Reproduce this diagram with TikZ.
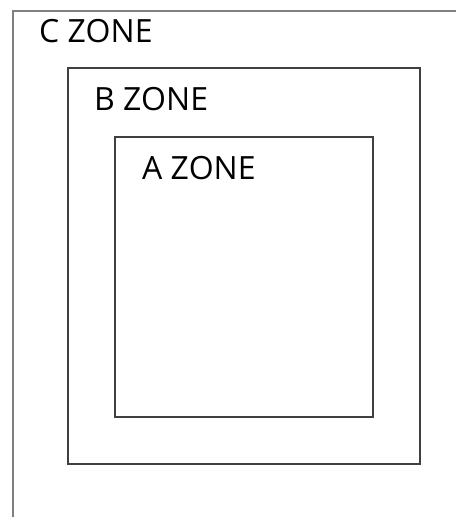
\documentclass[tikz,border=0pt]{standalone}
\usepackage{fontspec}
\setmainfont{Open Sans}
\begin{document}
\begin{tikzpicture}[x=1pt,y=-1pt,
  zonebox/.style={draw=black!75, line width=2.2pt},
  outerline/.style={draw=black!50, line width=2pt},
  zonelabel/.style={anchor=base west, inner sep=0pt, font=\fontsize{32}{38}\selectfont}]
\useasboundingbox[fill=white] (0,0) rectangle (456,517);
\coordinate (cbl) at (12.5,517);
\coordinate (ctl) at (12.5,10.5);
\coordinate (ctr) at (456,10.5);
\draw[outerline] (cbl) -- (ctl) -- (ctr);
\node[zonebox, minimum width=352pt, minimum height=396pt, anchor=north west, inner sep=0pt] (B) at (66.5,66.5) {};
\node[zonebox, minimum width=258pt, minimum height=280pt, anchor=north west, inner sep=0pt] (A) at (113.5,135.5) {};
\node[zonelabel] (cl) at (39,42) {C ZONE};
\node[zonelabel] (bl) at (94,110) {B ZONE};
\node[zonelabel] (al) at (142,179) {A ZONE};
\end{tikzpicture}
\end{document}
